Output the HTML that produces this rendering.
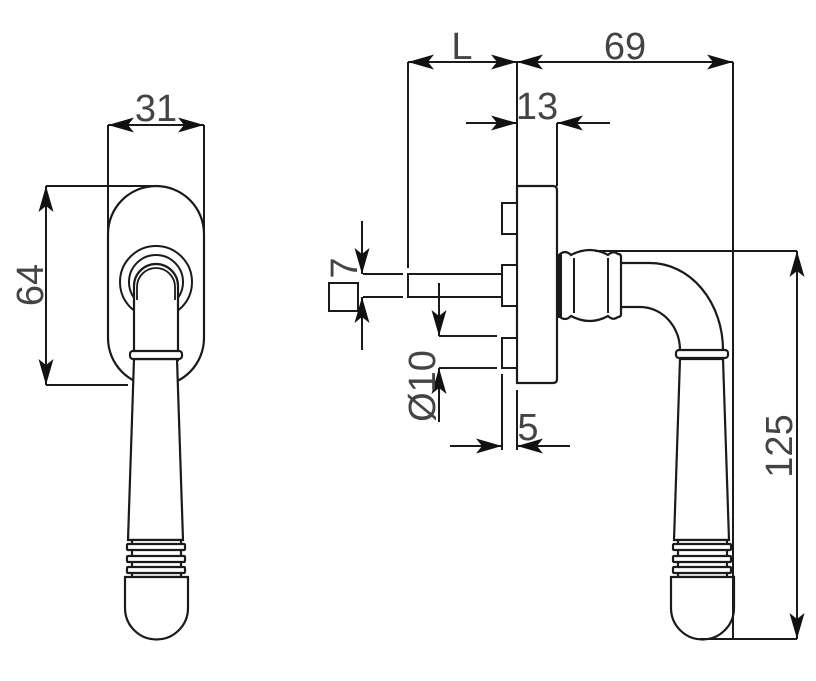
<!DOCTYPE html>
<html><head><meta charset="utf-8"><style>
html,body{margin:0;padding:0;background:#fff;}
svg{display:block;}
text{font-family:"Liberation Sans",sans-serif;font-size:38px;fill:#444;}
</style></head><body>
<svg width="816" height="681" viewBox="0 0 816 681" xmlns="http://www.w3.org/2000/svg">
<defs>
<marker id="a" markerUnits="userSpaceOnUse" viewBox="0 0 28 16" markerWidth="28" markerHeight="16" refX="26" refY="8" orient="auto-start-reverse">
<path d="M0,0.5 L26,8 L0,15.5 L6,8 Z" fill="#111"/>
</marker>
<g id="handle" fill="#fff" stroke="#1a1a1a" stroke-width="2.2">
<path d="M134,359 L128,540 L183,540 L177,359 Z"/>
<rect x="132" y="540" width="49" height="37"/>
<rect x="127" y="544" width="58" height="6" rx="1"/>
<rect x="127" y="556" width="58" height="6" rx="1"/>
<rect x="127" y="567" width="58" height="6" rx="1"/>
<path d="M125,577 L125,608 A31.5,31.5 0 0 0 188,608 L188,577 Z"/>
</g>
</defs>
<g fill="none" stroke="#1a1a1a" stroke-width="2">
<!-- LEFT VIEW -->
<rect x="108" y="186" width="96" height="200" rx="48" fill="#fff" stroke-width="2.2"/>
<circle cx="156" cy="282" r="36" stroke-width="2"/>
<circle cx="156" cy="282" r="27" stroke-width="2"/>
<path d="M134,360 L134,286 A22,22 0 0 1 178,286 L178,360 Z" fill="#fff" stroke-width="2.2"/>
<path d="M137,300 L137,287 A19,19 0 0 1 175,287 L175,300" stroke-width="1.8"/>
<use href="#handle"/>
<rect x="130" y="351" width="52" height="8" rx="3" fill="#fff" stroke-width="2.2"/>
<!-- 31 -->
<line x1="108" y1="125" x2="108" y2="235"/>
<line x1="204" y1="125" x2="204" y2="235"/>
<line x1="156" y1="125" x2="108" y2="125" marker-end="url(#a)"/>
<line x1="156" y1="125" x2="204" y2="125" marker-end="url(#a)"/>
<!-- 64 -->
<line x1="46" y1="186" x2="152" y2="186"/>
<line x1="46" y1="385" x2="128" y2="385"/>
<line x1="46" y1="285" x2="46" y2="186" marker-end="url(#a)"/>
<line x1="46" y1="285" x2="46" y2="385" marker-end="url(#a)"/>

<!-- RIGHT VIEW -->
<path d="M517,186 L553,186 Q557,186 557,190 L557,379 Q557,383 553,383 L517,383 Z" fill="#fff" stroke-width="2.2"/>
<rect x="502" y="203" width="15" height="31" fill="#fff" stroke-width="2"/>
<rect x="502" y="265" width="15" height="41" fill="#fff" stroke-width="2"/>
<rect x="502" y="338" width="15" height="30" fill="#fff" stroke-width="2"/>
<rect x="408" y="274" width="94" height="23" fill="#fff" stroke-width="2"/>
<rect x="329" y="283" width="29" height="28" stroke-width="2"/>
<!-- neck -->
<path d="M559,255 Q565,249 571,255 Q590,245 608,255 Q613,250 618,254 Q621,254 621,257 L621,314 Q621,317 618,317 Q613,321 608,316 Q590,326 571,316 Q565,322 559,316 Z" fill="#fff" stroke-width="2.2"/>
<line x1="560" y1="254" x2="560" y2="318" stroke-width="4"/>
<line x1="574" y1="258" x2="574" y2="313" stroke-width="2"/>
<line x1="608" y1="258" x2="608" y2="313" stroke-width="2"/>
<path d="M621,263 L650,263 A73,87 0 0 1 723,350" stroke-width="2.2"/>
<path d="M621,307 L640,307 A40,43 0 0 1 680,350" stroke-width="2.2"/>
<use href="#handle" transform="translate(546,0)"/>
<rect x="676" y="350" width="52" height="8" rx="3" fill="#fff" stroke-width="2.2"/>
<!-- L / 69 -->
<line x1="408" y1="62" x2="408" y2="268"/>
<line x1="517" y1="62" x2="517" y2="186"/>
<line x1="733" y1="62" x2="733" y2="639"/>
<line x1="462" y1="62" x2="408" y2="62" marker-end="url(#a)"/>
<line x1="462" y1="62" x2="517" y2="62" marker-end="url(#a)"/>
<line x1="625" y1="62" x2="517" y2="62" marker-end="url(#a)"/>
<line x1="625" y1="62" x2="733" y2="62" marker-end="url(#a)"/>
<!-- 13 -->
<line x1="557" y1="123" x2="557" y2="186"/>
<line x1="466" y1="123" x2="517" y2="123" marker-end="url(#a)"/>
<line x1="610" y1="123" x2="557" y2="123" marker-end="url(#a)"/>
<!-- 7 -->
<line x1="363" y1="274" x2="403" y2="274"/>
<line x1="363" y1="297" x2="403" y2="297"/>
<line x1="362" y1="221" x2="362" y2="274" marker-end="url(#a)"/>
<line x1="362" y1="350" x2="362" y2="297" marker-end="url(#a)"/>
<!-- Ø10 -->
<line x1="439" y1="336" x2="497" y2="336"/>
<line x1="439" y1="368" x2="497" y2="368"/>
<line x1="439" y1="283" x2="439" y2="336" marker-end="url(#a)"/>
<line x1="439" y1="422" x2="439" y2="368" marker-end="url(#a)"/>
<!-- 5 -->
<line x1="502" y1="374" x2="502" y2="450"/>
<line x1="517" y1="390" x2="517" y2="450"/>
<line x1="450" y1="446" x2="502" y2="446" marker-end="url(#a)"/>
<line x1="570" y1="446" x2="517" y2="446" marker-end="url(#a)"/>
<!-- 125 -->
<line x1="595" y1="251" x2="797" y2="251"/>
<line x1="700" y1="639" x2="797" y2="639"/>
<line x1="797" y1="445" x2="797" y2="251" marker-end="url(#a)"/>
<line x1="797" y1="445" x2="797" y2="639" marker-end="url(#a)"/>
</g>
<text x="156" y="121" text-anchor="middle">31</text>
<text transform="translate(43,285) rotate(-90)" text-anchor="middle">64</text>
<text x="462" y="59" text-anchor="middle">L</text>
<text x="625" y="59" text-anchor="middle">69</text>
<text x="537" y="119" text-anchor="middle">13</text>
<text x="528" y="440" text-anchor="middle">5</text>
<text transform="translate(357,268) rotate(-90)" text-anchor="middle">7</text>
<text transform="translate(435,386) rotate(-90)" text-anchor="middle">Ø10</text>
<text transform="translate(792,446) rotate(-90)" text-anchor="middle">125</text>
</svg>
</body></html>
